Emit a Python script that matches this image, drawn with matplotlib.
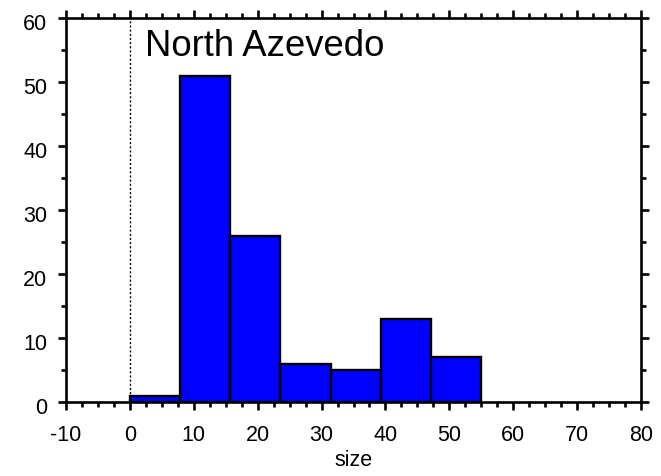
import matplotlib
matplotlib.use("Agg")
import matplotlib.pyplot as plt
from matplotlib.ticker import MultipleLocator
from matplotlib.transforms import Bbox, ScaledTranslation

plt.rcParams['font.family'] = ['Liberation Sans', 'DejaVu Sans']
plt.rcParams['axes.unicode_minus'] = False

title = "North Azevedo"
bin_edges = [0, 7.85, 15.7, 23.55, 31.4, 39.25, 47.1, 54.95]
counts = [1, 51, 26, 6, 5, 13, 7]
x_label = "size"
y_label = "count"

fig = plt.figure(figsize=(6.61, 4.77), dpi=100)
ax = fig.add_axes([66/661, 1-403/477, 575/661, 384/477])

widths = [bin_edges[i+1]-bin_edges[i] for i in range(len(counts))]
ax.bar(bin_edges[:-1], counts, width=widths, align='edge', color='#0000FF',
       edgecolor='black', linewidth=1.7, zorder=2)
ax.axvline(0, color='black', linestyle=(0, (1.5, 1.5)), linewidth=1.0, zorder=1)

ax.set_xlim(-10, 80)
ax.set_ylim(0, 60)
ax.xaxis.set_major_locator(MultipleLocator(10))
ax.xaxis.set_minor_locator(MultipleLocator(2.5))
ax.yaxis.set_major_locator(MultipleLocator(10))
ax.yaxis.set_minor_locator(MultipleLocator(5))
ax.tick_params(which='both', direction='out', top=True, right=True, width=1.9,
               labelsize=15.5, colors='black')
ax.tick_params(which='major', length=6)
ax.tick_params(which='minor', length=3.6)
ax.tick_params(axis='x', which='major', pad=10)
ax.tick_params(axis='y', which='major', pad=7.5)
for s in ax.spines.values():
    s.set_linewidth(1.9)

shift = ScaledTranslation(0, -2.5/72, fig.dpi_scale_trans)
for lab in ax.get_yticklabels():
    lab.set_transform(lab.get_transform() + shift)

ax.set_xlabel(x_label, fontsize=15.5, labelpad=3)

ax.text(0.137, 0.904, title, transform=ax.transAxes, fontsize=26.3,
        ha='left', va='baseline')

# partially visible (clipped) y label at the left edge, as in the reference
yl = fig.text(8/661, 1-207/477, y_label, rotation=90, fontsize=15.5,
              ha='center', va='center')
yl.set_clip_box(Bbox.from_extents(13.5, 0, 18, 477))

fig.savefig("out.png", dpi=100)
